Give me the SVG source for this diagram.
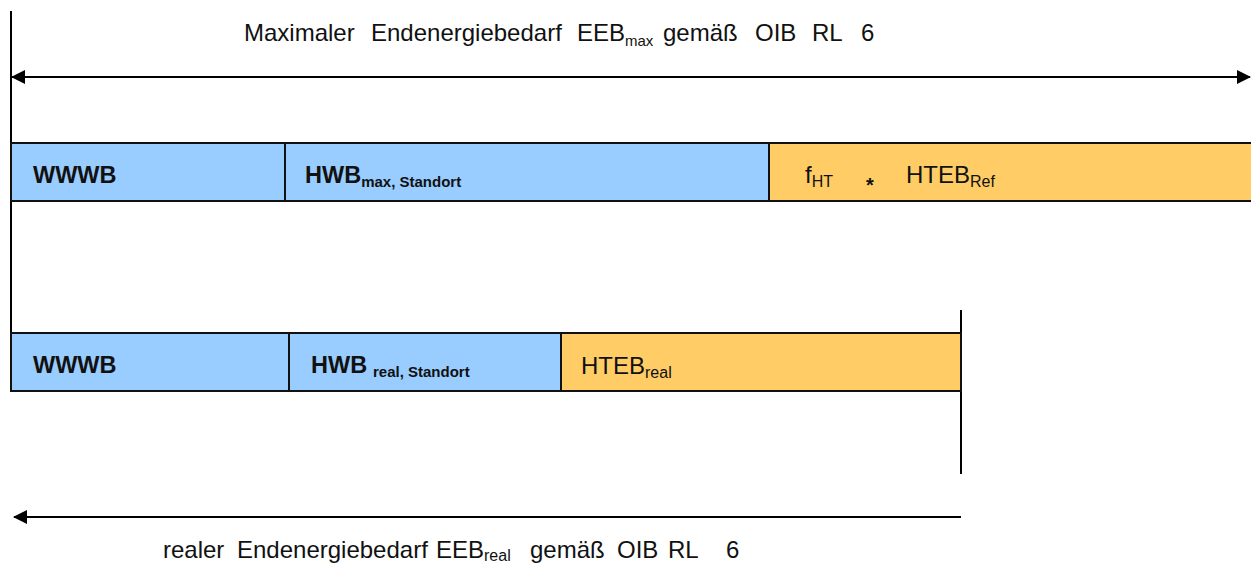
<svg xmlns="http://www.w3.org/2000/svg" width="1251" height="563" viewBox="0 0 1251 563">
<style>
.t{font-family:"Liberation Sans",Arial,sans-serif;fill:#111;}
.lbl{font-size:24px;}
.sub{font-size:16px;}
.b{font-weight:bold;font-size:23.5px;}
.bs{font-weight:bold;font-size:15px;}
.blue{fill:#99CCFF;stroke:#111;stroke-width:2;}
.orange{fill:#FFCC66;stroke:#111;stroke-width:2;}
.ln{stroke:#000;stroke-width:2;fill:none;}
</style>
<defs>
<marker id="ah" viewBox="0 0 14 14" refX="13" refY="7" markerWidth="14" markerHeight="14" markerUnits="userSpaceOnUse" orient="auto-start-reverse">
<path d="M0,0 L14,7 L0,14 Z" fill="#000"/>
</marker>
</defs>
<rect width="1251" height="563" fill="#fff"/>
<g id="connectors">
<line class="ln" x1="11" y1="11" x2="11" y2="333"/>
<line class="ln" x1="12" y1="77" x2="1250" y2="77" marker-start="url(#ah)" marker-end="url(#ah)"/>
<line class="ln" x1="961" y1="310" x2="961" y2="474"/>
<line class="ln" x1="961" y1="517" x2="14" y2="517" marker-end="url(#ah)"/>
</g>
<g id="title-max">
<text class="t lbl" y="41"><tspan x="244">Maximaler</tspan><tspan x="371">Endenergiebedarf</tspan><tspan x="577">EEB</tspan><tspan font-size="15" dy="5">max</tspan><tspan x="663" dy="-5">gemäß</tspan><tspan x="755">OIB</tspan><tspan x="812">RL</tspan><tspan x="861">6</tspan></text>
</g>
<g id="row1-wwwb">
<rect class="blue" x="11" y="143" width="274" height="58"/>
<text class="t b" x="33" y="183">WWWB</text>
</g>
<g id="row1-hwb">
<rect class="blue" x="285" y="143" width="484" height="58"/>
<text class="t b" x="305" y="183">HWB<tspan class="bs" dy="4">max, Standort</tspan></text>
</g>
<g id="row1-hteb">
<rect class="orange" x="769" y="143" width="490" height="58"/>
<text class="t lbl" x="805" y="183">f<tspan class="sub" dy="4">HT</tspan></text>
<text class="t" x="866" y="192" font-size="20" font-weight="bold">*</text>
<text class="t lbl" x="906" y="183">HTEB<tspan class="sub" dy="4">Ref</tspan></text>
</g>
<g id="row2-wwwb">
<rect class="blue" x="11" y="333" width="278" height="58"/>
<text class="t b" x="33" y="373">WWWB</text>
</g>
<g id="row2-hwb">
<rect class="blue" x="289" y="333" width="272" height="58"/>
<text class="t b" x="311" y="373">HWB<tspan class="bs" x="373" dy="4">real, Standort</tspan></text>
</g>
<g id="row2-hteb">
<rect class="orange" x="561" y="333" width="400" height="58"/>
<text class="t lbl" x="581" y="374">HTEB<tspan class="sub" dy="4">real</tspan></text>
</g>
<g id="title-real">
<text class="t lbl" y="558"><tspan x="163">realer</tspan><tspan x="237">Endenergiebedarf</tspan><tspan x="436">EEB</tspan><tspan class="sub" dy="3">real</tspan><tspan x="530" dy="-3">gemäß</tspan><tspan x="617">OIB</tspan><tspan x="668">RL</tspan><tspan x="726">6</tspan></text>
</g>
</svg>
